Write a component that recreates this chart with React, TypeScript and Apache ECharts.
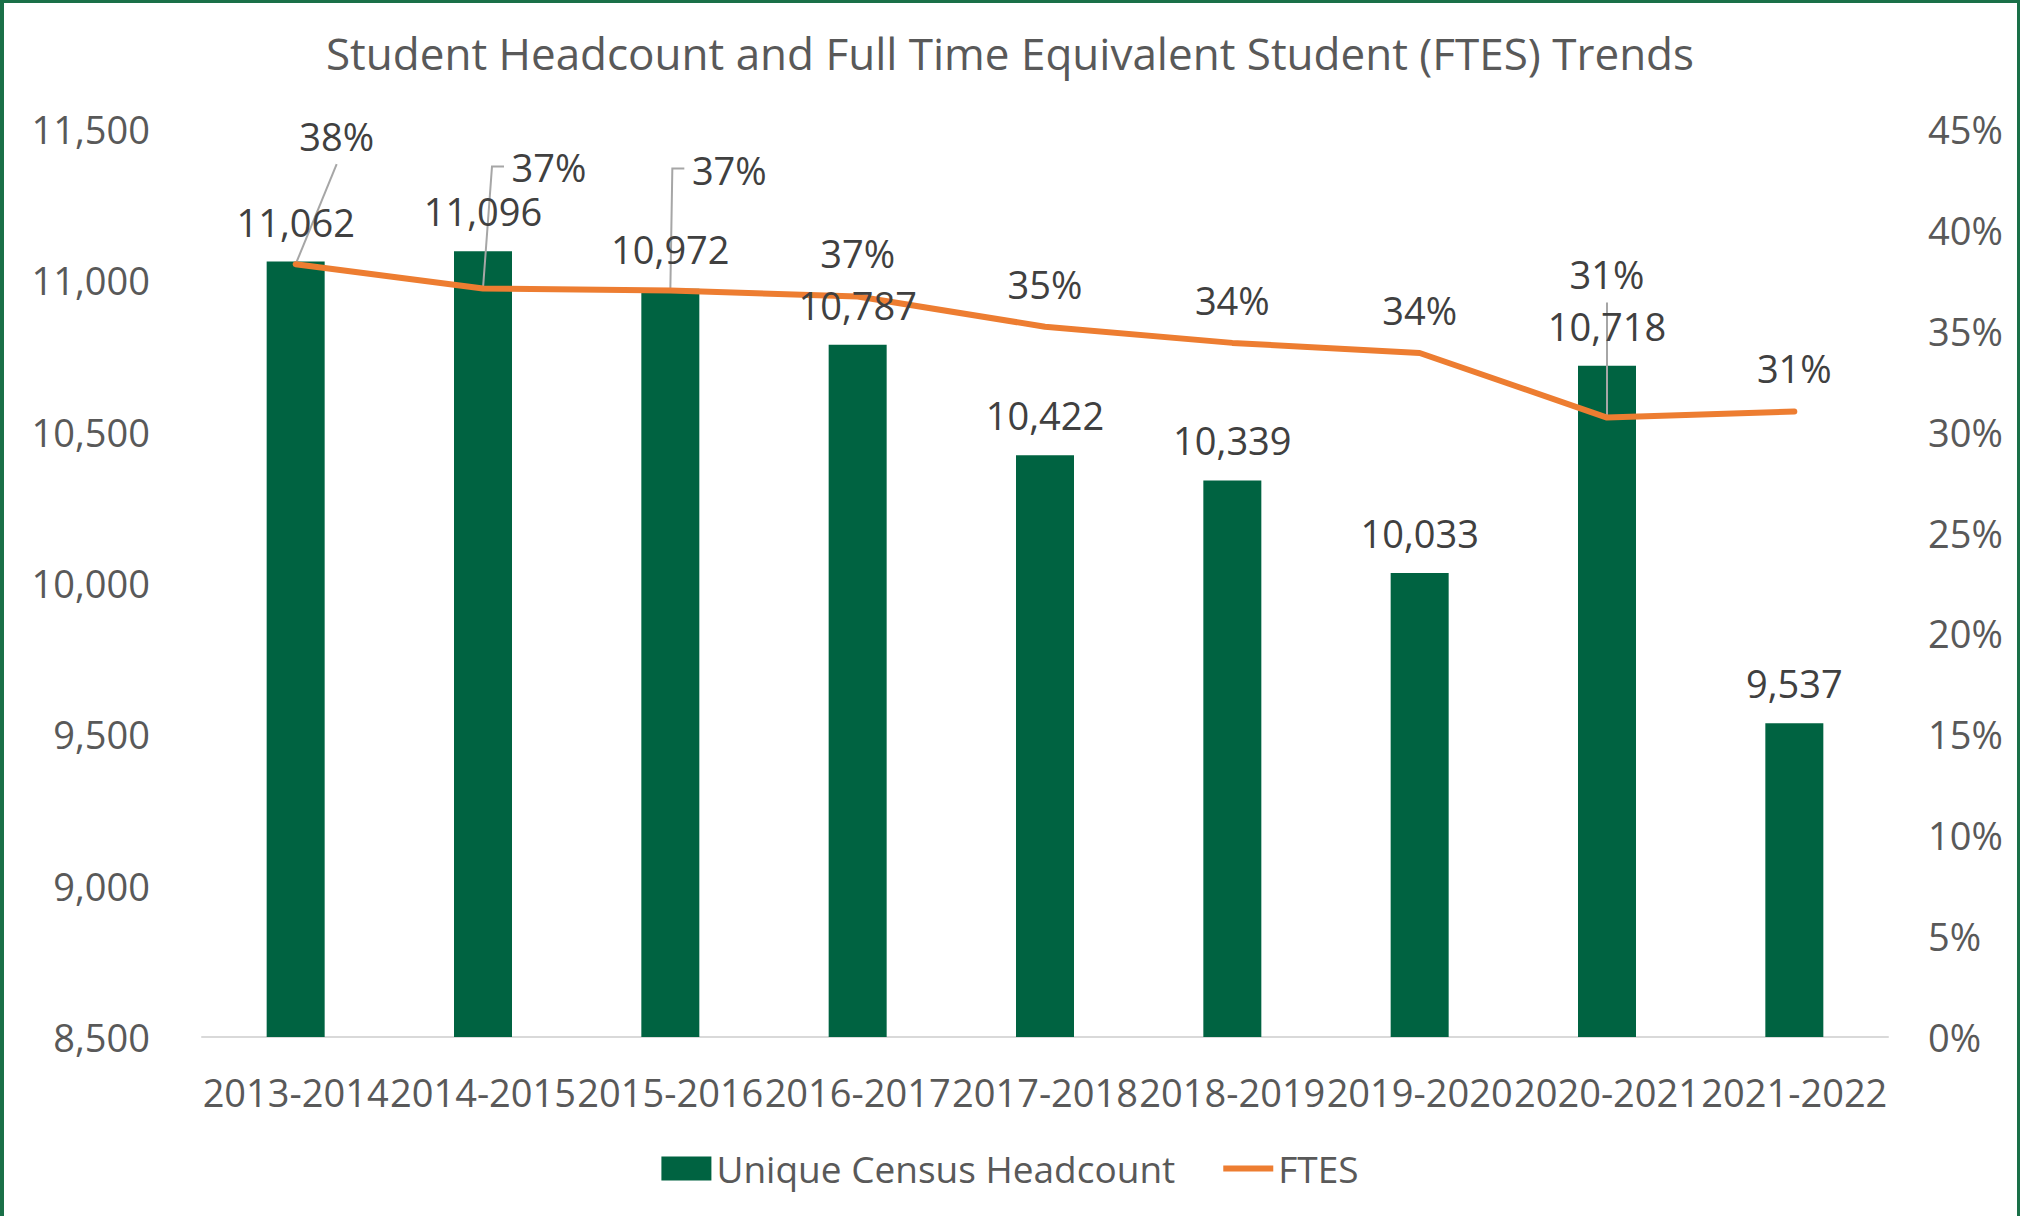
import React, { useEffect, useRef } from "react";
import * as echarts from "echarts";

const categories = [
  "2013-2014",
  "2014-2015",
  "2015-2016",
  "2016-2017",
  "2017-2018",
  "2018-2019",
  "2019-2020",
  "2020-2021",
  "2021-2022",
];
const headcount = [11062, 11096, 10972, 10787, 10422, 10339, 10033, 10718, 9537];
const ftes = [0.383, 0.371, 0.37, 0.367, 0.352, 0.344, 0.339, 0.307, 0.31];

const titleText = "Student Headcount and Full Time Equivalent Student (FTES) Trends";
const barName = "Unique Census Headcount";
const lineName = "FTES";

const FONT = "'Open Sans', 'Noto Sans', sans-serif";
const GREEN = "#006341";
const ORANGE = "#ED7D31";

// label displacement (pixels) for FTES labels that were moved away from their points
const moved: Record<number, { dx: number; dy: number }> = {
  0: { dx: 41, dy: -85 },
  1: { dx: 66, dy: -78 },
  2: { dx: 59, dy: -77 },
  7: { dx: 0, dy: -101 },
};
// leader-line shape (pixel offsets relative to the data point)
const leaders: Record<number, number[][]> = {
  0: [[0, 0], [41, -100]],
  1: [[0, 0], [9, -122], [21, -122]],
  2: [[0, 0], [2, -122], [14, -122]],
  7: [[0, 0], [0, -115]],
};

export default function App() {
  const ref = useRef<HTMLDivElement>(null);
  useEffect(() => {
    document.body.style.margin = "0";
    if (!ref.current) return;
    const chart = echarts.init(ref.current, null, { renderer: "svg" });
    const fmtPct = (v: number) => Math.round(v * 100) + "%";
    chart.setOption({
      animation: false,
      backgroundColor: "#ffffff",
      textStyle: { fontFamily: FONT },
      title: {
        text: titleText,
        left: "center",
        top: 26,
        textStyle: { fontFamily: FONT, fontSize: 44, fontWeight: "normal", color: "#595959" },
      },
      legend: {
        data: [
          { name: barName, icon: "rect" },
          { name: lineName, icon: "path://M0,0 L50,0 L50,6 L0,6 Z" },
        ],
        left: "center",
        top: 1145,
        itemWidth: 50,
        itemHeight: 24,
        itemGap: 48,
        textStyle: { fontFamily: FONT, fontSize: 37, color: "#595959" },
      },
      grid: { left: 202, right: 132, top: 129, bottom: 179 },
      xAxis: {
        type: "category",
        data: categories,
        axisTick: { show: false },
        axisLine: { lineStyle: { color: "#d9d9d9", width: 2 } },
        axisLabel: {
          interval: 0,
          margin: 36,
          fontFamily: FONT,
          fontSize: 38,
          color: "#595959",
        },
      },
      yAxis: [
        {
          type: "value",
          min: 8500,
          max: 11500,
          interval: 500,
          splitLine: { show: false },
          axisLine: { show: false },
          axisLabel: {
            margin: 52,
            fontFamily: FONT,
            fontSize: 38,
            color: "#595959",
            formatter: (v: number) => v.toLocaleString("en-US"),
          },
        },
        {
          type: "value",
          min: 0,
          max: 0.45,
          interval: 0.05,
          splitLine: { show: false },
          axisLine: { show: false },
          axisLabel: {
            margin: 40,
            fontFamily: FONT,
            fontSize: 38,
            color: "#595959",
            formatter: (v: number) => fmtPct(v),
          },
        },
      ],
      series: [
        {
          name: barName,
          type: "bar",
          data: headcount,
          barWidth: 58,
          barGap: "-100%",
          z: 2,
          itemStyle: { color: GREEN },
        },
        {
          name: "leaders",
          type: "custom",
          yAxisIndex: 1,
          z: 3,
          silent: true,
          data: ftes.map((v, i) => [i, v]),
          renderItem: (params: any, api: any) => {
            const shape = leaders[params.dataIndex];
            if (!shape) return null;
            const p = api.coord([api.value(0), api.value(1)]);
            return {
              type: "polyline",
              shape: { points: shape.map(([dx, dy]) => [p[0] + dx, p[1] + dy]) },
              style: { stroke: "#a6a6a6", lineWidth: 2, fill: "none" },
            };
          },
        },
        {
          name: lineName,
          type: "line",
          yAxisIndex: 1,
          z: 4,
          data: ftes,
          symbol: "circle",
          symbolSize: 2,
          itemStyle: { color: ORANGE },
          lineStyle: { color: ORANGE, width: 6, cap: "round", join: "round" },
          label: {
            show: true,
            position: "top",
            distance: 23,
            fontFamily: FONT,
            fontSize: 38,
            color: "#404040",
            formatter: (p: any) => fmtPct(p.value),
          },
          labelLayout: (p: any) => {
            const m = moved[p.dataIndex];
            return m ? { dx: m.dx, dy: m.dy } : {};
          },
        },
        {
          name: barName + " labels",
          type: "bar",
          data: headcount,
          barWidth: 58,
          barGap: "-100%",
          z: 5,
          silent: true,
          itemStyle: { color: "rgba(0,0,0,0)" },
          label: {
            show: true,
            position: "top",
            distance: 21,
            fontFamily: FONT,
            fontSize: 38,
            color: "#404040",
            formatter: (p: any) => Number(p.value).toLocaleString("en-US"),
          },
        },
      ],
    });
    return () => chart.dispose();
  }, []);
  return (
    <div style={{ position: "relative", width: 2020, height: 1216 }}>
      <div ref={ref} style={{ position: "absolute", left: 0, top: 0, width: 2020, height: 1216 }} />
      <div
        style={{
          position: "absolute",
          left: 0,
          top: 0,
          width: 2020,
          height: 1216,
          boxSizing: "border-box",
          borderLeft: "4px solid #1a7048",
          borderTop: "3px solid #1a7048",
          borderRight: "3px solid #1a7048",
          pointerEvents: "none",
        }}
      />
    </div>
  );
}
